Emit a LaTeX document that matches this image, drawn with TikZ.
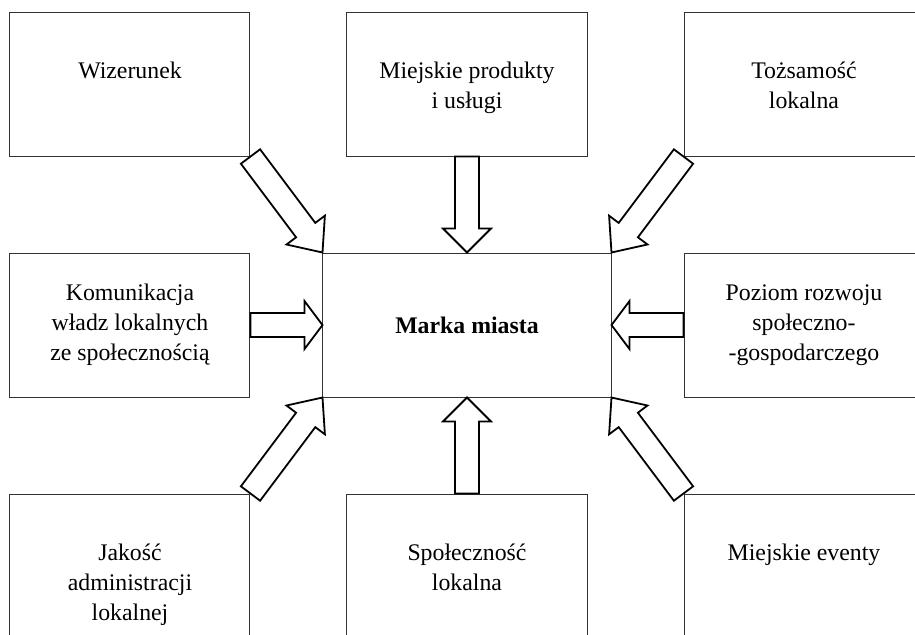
\documentclass[tikz,border=0pt]{standalone}
\usepackage{fontspec}
\setmainfont{Liberation Serif}
\usetikzlibrary{positioning,calc}

\tikzset{
  factor/.style={draw=black!80, line width=0.5pt, minimum width=120pt,
    minimum height=72pt, inner sep=0pt, font=\fontsize{11.9}{15}\selectfont},
  top factor/.style={factor,
    execute at begin node={\begin{minipage}[c][72pt][t]{120pt}\centering\vspace*{22.5pt}\strut},
    execute at end node={\end{minipage}}},
  side factor/.style={factor, align=center},
  brand/.style={side factor, minimum width=144pt,
    font=\fontsize{11.9}{15}\selectfont\bfseries},
  influence/.style={draw, line width=0.9pt, line join=miter,
    to path={let \p1=(\tikztostart), \p2=(\tikztotarget),
      \n1={atan2(\y2-\y1,\x2-\x1)}, \n2={veclen(\x2-\x1,\y2-\y1)} in
      ($(\p1)+(\n1+90:6pt)$) -- ++(\n1:\n2-#1) -- ++(\n1+90:6pt) -- (\p2)
      -- ($(\p2)+(\n1+180:#1)+(\n1-90:12pt)$) -- ++(\n1+90:6pt)
      -- ($(\p1)+(\n1-90:6pt)$) -- cycle}},
  influence/.default=12pt
}

\begin{document}
\begin{tikzpicture}
  \useasboundingbox (-233.5pt,-154.5pt) rectangle (224pt,162.5pt);
  \clip (-233.5pt,-154.5pt) rectangle (224pt,162.5pt);
  \node[brand]       (brand)                                    {Marka miasta};
  \node[side factor] (communication)  [left=36pt of brand]      {Komunikacja\\władz lokalnych\\ze społecznością};
  \node[side factor] (development)    [right=36pt of brand]     {Poziom rozwoju\\społeczno-\\-gospodarczego};
  \node[top factor]  (products)       [above=48pt of brand]     {Miejskie produkty\\i usługi};
  \node[top factor]  (image)          [left=48pt of products]   {Wizerunek};
  \node[top factor]  (identity)       [right=48pt of products]  {Tożsamość\\lokalna};
  \node[top factor]  (community)      [below=48pt of brand]     {Społeczność\\lokalna};
  \node[top factor]  (administration) [left=48pt of community]  {Jakość\\administracji\\lokalnej};
  \node[top factor]  (events)         [right=48pt of community] {Miejskie eventy};
  \draw[influence=14pt] (image.south east) to (brand.north west);
  \draw[influence]      (products.south) to (brand.north);
  \draw[influence=14pt] (identity.south west) to (brand.north east);
  \draw[influence=9pt]  (communication.east) to (brand.west);
  \draw[influence=9pt]  (development.west) to (brand.east);
  \draw[influence=14pt] (administration.north east) to (brand.south west);
  \draw[influence]      (community.north) to (brand.south);
  \draw[influence=14pt] (events.north west) to (brand.south east);
\end{tikzpicture}
\end{document}
